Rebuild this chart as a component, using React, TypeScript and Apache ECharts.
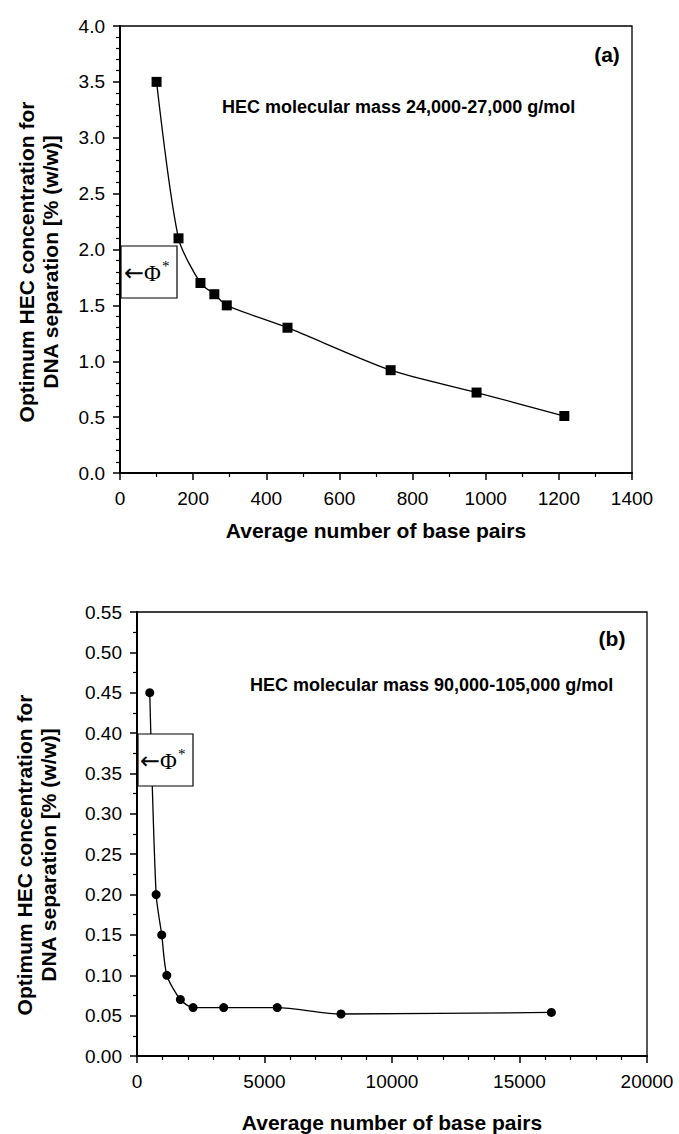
import React, { useEffect, useRef } from 'react';
import * as echarts from 'echarts';

// Panel (a): HEC 24,000-27,000 g/mol
const topBasePairs = [100, 160, 220, 258, 292, 458, 740, 975, 1215];
const topConcentration = [3.5, 2.1, 1.7, 1.6, 1.5, 1.3, 0.92, 0.72, 0.51];
// Panel (b): HEC 90,000-105,000 g/mol
const bottomBasePairs = [500, 750, 970, 1170, 1700, 2200, 3400, 5500, 8000, 16250];
const bottomConcentration = [0.45, 0.2, 0.15, 0.1, 0.07, 0.06, 0.06, 0.06, 0.052, 0.054];

const topXRange = [0, 1400, 200];
const topYRange = [0, 4, 0.5];
const bottomXRange = [0, 20000, 5000];
const bottomYRange = [0, 0.55, 0.05];

const xTitle = 'Average number of base pairs';
const yTitle = 'Optimum HEC concentration for\nDNA separation [% (w/w)]';
const topNote = 'HEC molecular mass 24,000-27,000 g/mol';
const bottomNote = 'HEC molecular mass 90,000-105,000 g/mol';
const topTag = '(a)';
const bottomTag = '(b)';

const SANS = "'Liberation Sans', Arial, Helvetica, sans-serif";
const SERIF = "'Liberation Serif', 'Times New Roman', serif";

function pairs(xs: number[], ys: number[]) {
  return xs.map((x, i) => [x, ys[i]]);
}

function makeXAxis(gridIndex: number, range: number[], minorSplit: number, nameGap: number) {
  return {
    gridIndex,
    type: 'value',
    min: range[0],
    max: range[1],
    interval: range[2],
    axisLine: { show: true, onZero: false, lineStyle: { color: '#000', width: 2 } },
    axisTick: { show: true, inside: false, length: 7, lineStyle: { color: '#000', width: 1.5 } },
    minorTick: { show: true, splitNumber: minorSplit, length: 4, lineStyle: { color: '#000', width: 1.2 } },
    splitLine: { show: false },
    minorSplitLine: { show: false },
    axisLabel: {
      color: '#000',
      fontSize: 19,
      fontFamily: SANS,
      margin: 16,
      formatter: (v: number) => String(v),
    },
    name: xTitle,
    nameLocation: 'middle',
    nameGap,
    nameTextStyle: { fontSize: 21, fontWeight: 'bold', color: '#000', fontFamily: SANS },
  };
}

function makeYAxis(gridIndex: number, range: number[], minorSplit: number, decimals: number) {
  return {
    gridIndex,
    type: 'value',
    min: range[0],
    max: range[1],
    interval: range[2],
    axisLine: { show: true, onZero: false, lineStyle: { color: '#000', width: 2 } },
    axisTick: { show: true, inside: false, length: 7, lineStyle: { color: '#000', width: 1.5 } },
    minorTick: { show: true, splitNumber: minorSplit, length: 4, lineStyle: { color: '#000', width: 1.2 } },
    splitLine: { show: false },
    minorSplitLine: { show: false },
    axisLabel: {
      color: '#000',
      fontSize: 19,
      fontFamily: SANS,
      margin: 15,
      formatter: (v: number) => v.toFixed(decimals),
    },
  };
}

function phiText(x: number, y: number, z: number) {
  return {
    type: 'text', x, y, z,
    style: {
      text: '{a|←}{b|Φ}{s|*}',
      align: 'left',
      verticalAlign: 'middle',
      fill: '#000',
      rich: {
        a: { fontFamily: "'DejaVu Sans', sans-serif", fontSize: 24, fill: '#000', verticalAlign: 'middle' },
        b: { fontFamily: SERIF, fontSize: 23, fill: '#000', verticalAlign: 'middle' },
        s: { fontFamily: SERIF, fontSize: 15, fill: '#000', verticalAlign: 'top', padding: [0, 0, 14, 1] },
      },
    },
  };
}

export default function App() {
  const ref = useRef<HTMLDivElement>(null);

  useEffect(() => {
    if (!ref.current) return;
    const chart = echarts.init(ref.current, null, { renderer: 'svg' });

    const textZ = 100;
    const option: any = {
      animation: false,
      backgroundColor: '#fff',
      grid: [
        { left: 120, top: 26, width: 512, height: 447, show: true, borderColor: '#000', borderWidth: 1.3, backgroundColor: 'transparent' },
        { left: 137, top: 612, width: 510, height: 447, show: true, borderColor: '#000', borderWidth: 1.3, backgroundColor: 'transparent' },
      ],
      xAxis: [makeXAxis(0, topXRange, 2, 47), makeXAxis(1, bottomXRange, 5, 56)],
      yAxis: [makeYAxis(0, topYRange, 5, 1), makeYAxis(1, bottomYRange, 2, 2)],
      series: [
        {
          type: 'line',
          xAxisIndex: 0,
          yAxisIndex: 0,
          data: pairs(topBasePairs, topConcentration),
          smooth: 0.25,
          symbol: 'rect',
          symbolSize: 10,
          showAllSymbol: true,
          lineStyle: { color: '#000', width: 1.3 },
          itemStyle: { color: '#000' },
          z: 3,
        },
        {
          type: 'line',
          xAxisIndex: 1,
          yAxisIndex: 1,
          data: pairs(bottomBasePairs, bottomConcentration),
          smooth: 0.25,
          symbol: 'circle',
          symbolSize: 9,
          showAllSymbol: true,
          lineStyle: { color: '#000', width: 1.3 },
          itemStyle: { color: '#000' },
          z: 3,
        },
      ],
      graphic: [
        // y axis titles
        {
          type: 'text', x: 38, y: 262, rotation: Math.PI / 2, z: textZ,
          style: { text: yTitle, align: 'center', verticalAlign: 'middle', fontSize: 21, fontWeight: 'bold', fontFamily: SANS, lineHeight: 24, fill: '#000' },
        },
        {
          type: 'text', x: 36, y: 855, rotation: Math.PI / 2, z: textZ,
          style: { text: yTitle, align: 'center', verticalAlign: 'middle', fontSize: 21, fontWeight: 'bold', fontFamily: SANS, lineHeight: 24, fill: '#000' },
        },
        // panel tags
        {
          type: 'text', x: 607, y: 54, z: textZ,
          style: { text: topTag, align: 'center', verticalAlign: 'middle', fontSize: 21, fontWeight: 'bold', fontFamily: SANS, fill: '#000' },
        },
        {
          type: 'text', x: 612, y: 638, z: textZ,
          style: { text: bottomTag, align: 'center', verticalAlign: 'middle', fontSize: 21, fontWeight: 'bold', fontFamily: SANS, fill: '#000' },
        },
        // notes
        {
          type: 'text', x: 222, y: 107, z: textZ,
          style: { text: topNote, align: 'left', verticalAlign: 'middle', fontSize: 18, fontWeight: 'bold', fontFamily: SANS, fill: '#000' },
        },
        {
          type: 'text', x: 250, y: 685, z: textZ,
          style: { text: bottomNote, align: 'left', verticalAlign: 'middle', fontSize: 18, fontWeight: 'bold', fontFamily: SANS, fill: '#000' },
        },
        // phi* boxes
        {
          type: 'rect', z: textZ, shape: { x: 121, y: 246, width: 56, height: 52 },
          style: { fill: '#fff', stroke: '#000', lineWidth: 1.2 },
        },
        phiText(124, 273, textZ + 1),
        {
          type: 'rect', z: textZ, shape: { x: 138, y: 734, width: 55, height: 52 },
          style: { fill: '#fff', stroke: '#000', lineWidth: 1.2 },
        },
        phiText(140, 761, textZ + 1),
      ],
    };

    chart.setOption(option);
    return () => {
      chart.dispose();
    };
  }, []);

  return (
    <div
      ref={ref}
      style={{ position: 'absolute', left: 0, top: 0, width: 679, height: 1134, background: '#fff' }}
    />
  );
}
